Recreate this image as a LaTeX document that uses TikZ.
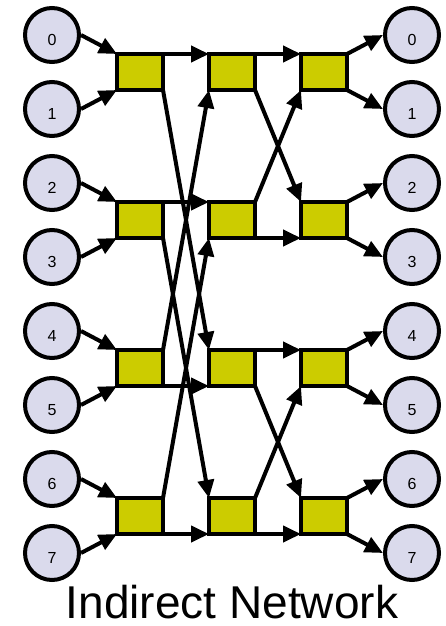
\documentclass[tikz,border=0pt]{standalone}
\usepackage{fontspec}
\setmainfont{Liberation Sans}
\usetikzlibrary{arrows.meta, positioning}

\definecolor{portfill}{RGB}{218,218,236}
\definecolor{switchfill}{RGB}{204,204,0}

\begin{document}
\begin{tikzpicture}[x=1pt, y=-1pt, line width=4pt,
    >={Triangle[length=18pt, width=16pt]},
    node distance=112pt and 46pt,
    port/.style={draw, circle, fill=portfill, minimum size=54pt, inner sep=0pt,
        label={[font=\fontsize{16}{16}\selectfont, yshift=-5pt]center:#1}},
    switch/.style={draw, rectangle, fill=switchfill, minimum width=46pt,
        minimum height=36pt, inner sep=0pt, outer sep=0pt}]
    \useasboundingbox (0,0) rectangle (446,626);

    % Input ports
    \node (in0) [port=0] at (52,35) {};
    \node (in1) [port=1] at (52,109) {};
    \node (in2) [port=2] at (52,183) {};
    \node (in3) [port=3] at (52,257) {};
    \node (in4) [port=4] at (52,331) {};
    \node (in5) [port=5] at (52,405) {};
    \node (in6) [port=6] at (52,479) {};
    \node (in7) [port=7] at (52,553) {};

    % Switches, three stages
    \node (s11) [switch] at (140,72) {};
    \node (s12) [switch, below=of s11] {};
    \node (s13) [switch, below=of s12] {};
    \node (s14) [switch, below=of s13] {};
    \node (s21) [switch, right=of s11] {};
    \node (s22) [switch, right=of s12] {};
    \node (s23) [switch, right=of s13] {};
    \node (s24) [switch, right=of s14] {};
    \node (s31) [switch, right=of s21] {};
    \node (s32) [switch, right=of s22] {};
    \node (s33) [switch, right=of s23] {};
    \node (s34) [switch, right=of s24] {};

    % Output ports
    \node (out0) [port=0] at (412,35) {};
    \node (out1) [port=1] at (412,109) {};
    \node (out2) [port=2] at (412,183) {};
    \node (out3) [port=3] at (412,257) {};
    \node (out4) [port=4] at (412,331) {};
    \node (out5) [port=5] at (412,405) {};
    \node (out6) [port=6] at (412,479) {};
    \node (out7) [port=7] at (412,553) {};

    % Inputs into first stage
    \draw[->] (in0.east) -- (s11.north west);
    \draw[->] (in1.east) -- (s11.south west);
    \draw[->] (in2.east) -- (s12.north west);
    \draw[->] (in3.east) -- (s12.south west);
    \draw[->] (in4.east) -- (s13.north west);
    \draw[->] (in5.east) -- (s13.south west);
    \draw[->] (in6.east) -- (s14.north west);
    \draw[->] (in7.east) -- (s14.south west);

    % First stage to second stage
    \draw[->] (s11.north east) -- (s21.north west);
    \draw[->] (s11.south east) -- (s23.north west);
    \draw[->] (s12.north east) -- (s22.north west);
    \draw[->] (s12.south east) -- (s24.north west);
    \draw[->] (s13.north east) -- (s21.south west);
    \draw[->] (s13.south east) -- (s23.south west);
    \draw[->] (s14.north east) -- (s22.south west);
    \draw[->] (s14.south east) -- (s24.south west);

    % Second stage to third stage
    \draw[->] (s21.north east) -- (s31.north west);
    \draw[->] (s21.south east) -- (s32.north west);
    \draw[->] (s22.north east) -- (s31.south west);
    \draw[->] (s22.south east) -- (s32.south west);
    \draw[->] (s23.north east) -- (s33.north west);
    \draw[->] (s23.south east) -- (s34.north west);
    \draw[->] (s24.north east) -- (s33.south west);
    \draw[->] (s24.south east) -- (s34.south west);

    % Third stage out to the ports
    \draw[->] (s31.north east) -- (out0.west);
    \draw[->] (s31.south east) -- (out1.west);
    \draw[->] (s32.north east) -- (out2.west);
    \draw[->] (s32.south east) -- (out3.west);
    \draw[->] (s33.north east) -- (out4.west);
    \draw[->] (s33.south east) -- (out5.west);
    \draw[->] (s34.north east) -- (out6.west);
    \draw[->] (s34.south east) -- (out7.west);

    \node (title) [anchor=base, inner sep=0pt, font=\fontsize{46}{48}\selectfont] at (232,618) {Indirect Network};
\end{tikzpicture}
\end{document}
